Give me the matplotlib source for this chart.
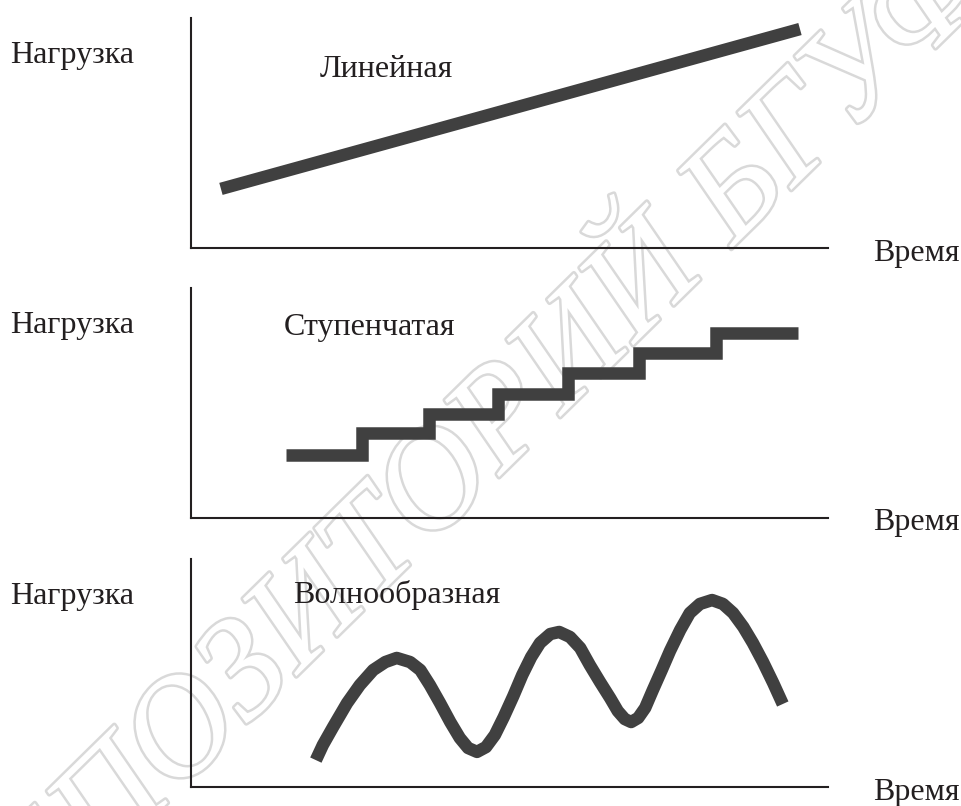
import matplotlib
matplotlib.use("Agg")
import matplotlib.pyplot as plt
import matplotlib.patheffects as pe

# ---------------- data ----------------
y_label = "Нагрузка"
x_label = "Время"
titles = ["Линейная", "Ступенчатая", "Волнообразная"]

# Linear load (time, load)
lin_time = [4.7, 95.6]
lin_load = [25.7, 95.2]

# Stepped load: step edges (time) and levels (load)
step_edges = [14.9, 26.8, 37.4, 48.2, 59.2, 70.3, 82.4, 95.3]
step_levels = [27.4, 37.0, 45.2, 53.9, 63.0, 71.7, 80.4]

# Wave-like load (time, load)
wave_time = [19.6, 20.7, 22.3, 24.5, 26.5, 28.6, 30.5, 32.3, 34.4, 36.0,
             37.5, 39.1, 40.7, 42.2, 43.5, 44.9, 46.3, 47.7, 49.1, 50.6,
             52.0, 53.4, 54.8, 56.4, 57.8, 59.5, 61.1, 62.6, 64.2, 65.8,
             67.0, 68.1, 69.1, 70.2, 71.3, 72.5, 73.9, 75.2, 76.8, 78.3,
             79.9, 81.8, 83.5, 85.1, 86.7, 88.2, 89.8, 91.4, 92.9]
wave_load = [11.8, 18.4, 26.3, 36.8, 44.7, 51.3, 54.8, 56.6, 54.8, 51.3,
             44.7, 36.8, 28.5, 21.5, 17.1, 15.4, 17.5, 22.8, 30.7, 39.9,
             49.1, 57.0, 63.2, 67.1, 68.0, 65.8, 61.0, 53.5, 46.1, 39.0,
             33.3, 29.8, 28.5, 30.3, 34.7, 42.5, 51.3, 59.7, 68.9, 76.3,
             80.3, 82.0, 80.3, 76.3, 70.2, 63.2, 54.8, 45.6, 36.4]

watermark = "РЕПОЗИТОРИЙ БГУФК"

# ---------------- style ----------------
W, H = 962, 806
LINE_C = "#404040"
TXT_C = "#231f20"
LW = 9.0
FONT = "Liberation Serif"
FS = 23

fig = plt.figure(figsize=(W / 100, H / 100), dpi=100)
fig.patch.set_facecolor("white")


def fx(px):
    return px / W


def fy(py):
    return 1 - py / H


# watermark (beneath everything)
fig.text(fx(495), fy(433), watermark, rotation=44.5, rotation_mode="anchor",
         ha="center", va="center", fontsize=102, family=FONT, style="italic",
         color="white", zorder=-5,
         path_effects=[pe.withStroke(linewidth=3.6, foreground="#d9d9d9")])

panels = [(18, 248), (288, 518), (559, 787)]
axes = []
for (top, bot) in panels:
    ax = fig.add_axes([fx(191), fy(bot), fx(828) - fx(191), (bot - top) / H])
    ax.set_xlim(0, 100)
    ax.set_ylim(0, 100)
    ax.patch.set_alpha(0)
    for s in ["top", "right"]:
        ax.spines[s].set_visible(False)
    for s in ["left", "bottom"]:
        ax.spines[s].set_linewidth(1.5)
        ax.spines[s].set_color(TXT_C)
    ax.set_xticks([])
    ax.set_yticks([])
    axes.append(ax)

# panel 1: linear
axes[0].plot(lin_time, lin_load, color=LINE_C, lw=LW, solid_capstyle="butt")

# panel 2: steps
axes[1].stairs(step_levels, step_edges, baseline=None, color=LINE_C, lw=LW,
               joinstyle="miter", capstyle="butt")

# panel 3: wave
axes[2].plot(wave_time, wave_load, color=LINE_C, lw=LW,
             solid_capstyle="butt", solid_joinstyle="round")

# texts
ylab_base = [63, 333, 604]
xlab_base = [261, 530, 800]
title_pos = [(320, 77), (284, 335), (293, 603)]
for i in range(3):
    fig.text(fx(10), fy(ylab_base[i]), y_label, fontsize=FS, family=FONT,
             color=TXT_C, va="baseline", ha="left")
    fig.text(fx(873), fy(xlab_base[i]), x_label, fontsize=FS, family=FONT,
             color=TXT_C, va="baseline", ha="left")
    fig.text(fx(title_pos[i][0]), fy(title_pos[i][1]), titles[i], fontsize=FS,
             family=FONT, color=TXT_C, va="baseline", ha="left")

fig.savefig("out.png", dpi=100, facecolor="white")
